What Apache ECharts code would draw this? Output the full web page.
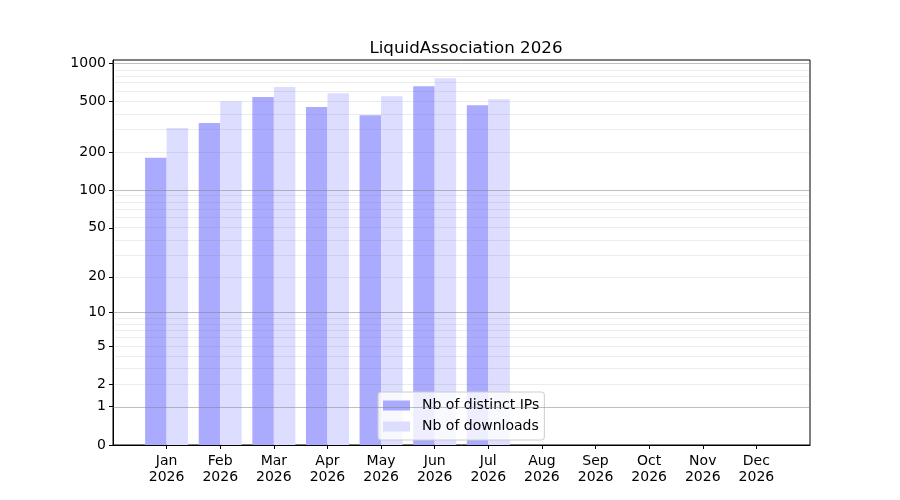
<!DOCTYPE html>
<html>
<head>
<meta charset="utf-8">
<script src="https://cdn.jsdelivr.net/npm/echarts@6/dist/echarts.min.js"></script>
<style>
  html, body { margin: 0; padding: 0; background: #fff; }
  #chart { width: 900px; height: 500px; }
</style>
</head>
<body>
<div id="chart"></div>
<script>
// mois et annee
var months = ['Jan', 'Feb', 'Mar', 'Apr', 'May', 'Jun', 'Jul', 'Aug', 'Sep', 'Oct', 'Nov', 'Dec'];
var year = '2026';
// valeurs (Aug-Dec : pas de donnees)
var ipsValues = [180, 339, 544, 454, 390, 660, 468, null, null, null, null, null];
var downloadsValues = [310, 503, 652, 582, 551, 763, 521, null, null, null, null, null];
// graduations de l'axe y (echelle log(1+x))
var yTickValues = [0, 1, 2, 5, 10, 20, 50, 100, 200, 500, 1000];
var gridMajor = [1, 10, 100, 1000];
var gridMinor = [2, 3, 4, 5, 6, 7, 8, 9, 20, 30, 40, 50, 60, 70, 80, 90, 200, 300, 400, 500, 600, 700, 800, 900];

function tr(v) {
    return v == null ? null : Math.log10(1 + v);
}

function drawChart() {
    var chart = echarts.init(document.getElementById('chart'));
    var font = 'DejaVu Sans';

    // une categorie vide de chaque cote (marge comme matplotlib)
    var cats = [''];
    for (var i = 0; i < months.length; i++) {
        cats.push(months[i] + '\n' + year);
    }
    cats.push('');

    var ipsData = [null].concat(ipsValues.map(tr)).concat([null]);
    var dlData = [null].concat(downloadsValues.map(tr)).concat([null]);

    var yMax = tr(Math.max.apply(null, downloadsValues.filter(function(v){ return v != null; }))) * 1.05;

    var lines = [];
    gridMinor.forEach(function(v){
        lines.push({ yAxis: tr(v), lineStyle: { color: 'rgba(128,128,128,0.15)', width: 1, type: 'solid' } });
    });
    gridMajor.forEach(function(v){
        lines.push({ yAxis: tr(v), lineStyle: { color: 'rgba(128,128,128,0.5)', width: 1, type: 'solid' } });
    });

    var option = {
        animation: false,
        textStyle: { fontFamily: font },
        title: {
            text: 'LiquidAssociation 2026',
            left: 461,
            textAlign: 'center',
            top: 35,
            textStyle: { fontFamily: font, fontSize: 16.7, fontWeight: 'normal', color: '#000' }
        },
        grid: {
            left: 113,
            right: 90,
            top: 60,
            bottom: 55,
            show: true,
            borderColor: '#000',
            borderWidth: 1,
            backgroundColor: 'transparent'
        },
        legend: {
            orient: 'vertical',
            left: 378,
            top: 392,
            itemWidth: 27,
            itemHeight: 10,
            itemGap: 6,
            padding: [6, 5, 6, 5],
            backgroundColor: 'rgba(255,255,255,0.8)',
            borderColor: '#cccccc',
            borderWidth: 1,
            borderRadius: 3,
            textStyle: { fontFamily: font, fontSize: 14, lineHeight: 15, color: '#000', padding: [0, 0, 0, 7] },
            data: [
                { name: 'Nb of distinct IPs', icon: 'rect' },
                { name: 'Nb of downloads', icon: 'rect' }
            ]
        },
        xAxis: {
            type: 'category',
            data: cats,
            boundaryGap: false,
            axisLine: { show: true, lineStyle: { color: '#000', width: 1 } },
            axisTick: {
                show: true,
                inside: false,
                length: 4,
                lineStyle: { color: '#000' },
                interval: function(index) { return index > 0 && index < cats.length - 1; }
            },
            axisLabel: {
                interval: 0,
                margin: 8,
                color: '#000',
                fontFamily: font,
                fontSize: 14,
                lineHeight: 16
            },
            splitLine: { show: false }
        },
        yAxis: {
            type: 'value',
            min: 0,
            max: yMax,
            axisLine: { show: true, lineStyle: { color: '#000', width: 1 } },
            axisTick: {
                show: true,
                inside: false,
                length: 4,
                lineStyle: { color: '#000' },
                customValues: yTickValues.map(tr)
            },
            axisLabel: {
                margin: 7,
                color: '#000',
                fontFamily: font,
                fontSize: 14,
                customValues: yTickValues.map(tr),
                formatter: function(v) {
                    return String(Math.round(Math.pow(10, v) - 1));
                }
            },
            splitLine: { show: false }
        },
        series: [
            {
                name: 'Nb of distinct IPs',
                type: 'bar',
                barWidth: 21.5,
                barGap: '0%',
                data: ipsData,
                itemStyle: { color: '#aaaaff' },
                markLine: {
                    silent: true,
                    symbol: ['none', 'none'],
                    label: { show: false },
                    z: 5,
                    data: lines
                }
            },
            {
                name: 'Nb of downloads',
                type: 'bar',
                barWidth: 21.5,
                barGap: '0%',
                data: dlData,
                itemStyle: { color: '#ddddff' }
            }
        ]
    };

    chart.setOption(option);
}

drawChart();
</script>
</body>
</html>
